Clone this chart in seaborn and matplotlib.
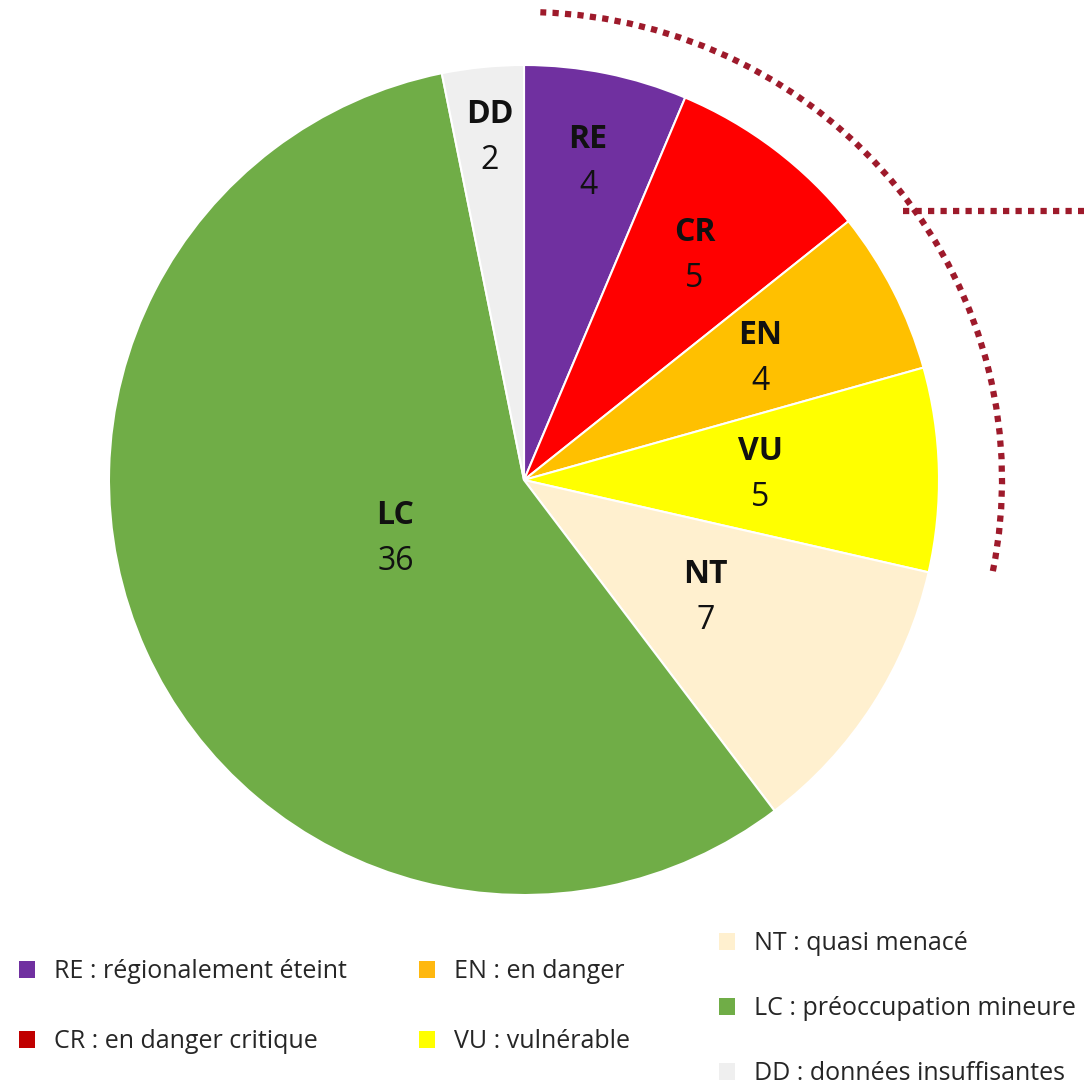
import numpy as np
import matplotlib
matplotlib.use("Agg")
import matplotlib.pyplot as plt
from matplotlib.patches import Arc, Patch
import seaborn as sns

# data (clockwise from 12 o'clock)
codes = ["RE", "CR", "EN", "VU", "NT", "LC", "DD"]
counts = [4, 5, 4, 5, 7, 36, 2]
legend_labels = [
    "RE : régionalement éteint",
    "CR : en danger critique",
    "EN : en danger",
    "VU : vulnérable",
    "NT : quasi menacé",
    "LC : préoccupation mineure",
    "DD : données insuffisantes",
]

slice_colors = ["#7030A0", "#FF0000", "#FFC000", "#FFFF00", "#FFF0CF", "#70AD47", "#EFEFEF"]
legend_colors = ["#7030A0", "#C00000", "#FFB80F", "#FFFF00", "#FFF0CF", "#70AD47", "#EFEFEF"]
# how far from the centre each label sits (fraction of radius)
label_dist = [0.78, 0.68, 0.64, 0.57, 0.52, 0.34, 0.83]

sns.set_theme(style="white")
plt.rcParams["font.family"] = ["Open Sans", "DejaVu Sans"]

W, H = 1084, 1087
fig = plt.figure(figsize=(W / 100, H / 100), dpi=100)
ax = fig.add_axes([0, 0, 1, 1])

cx, cy, r = 524, H - 480, 415
wedges, _ = ax.pie(
    counts,
    colors=slice_colors,
    startangle=90,
    counterclock=False,
    center=(cx, cy),
    radius=r,
    wedgeprops=dict(edgecolor="white", linewidth=1.5),
    frame=True,
)
ax.set_xlim(0, W)
ax.set_ylim(0, H)
ax.axis("off")

for w, code, n, d in zip(wedges, codes, counts, label_dist):
    ang = np.deg2rad((w.theta1 + w.theta2) / 2)
    x = cx + d * r * np.cos(ang)
    y = cy + d * r * np.sin(ang)
    ax.text(x, y + 23, code, ha="center", va="center", fontsize=23,
            fontweight="bold", color="#111111")
    ax.text(x, y - 23, str(n), ha="center", va="center", fontsize=23,
            color="#111111")

# dotted bracket around the threatened categories
dark_red = "#9E1A2B"
arc = Arc((cx, cy), 2 * 478, 2 * 468, theta1=-11, theta2=88,
          color=dark_red, linewidth=4.5, linestyle=(0, (1, 1)))
ax.add_patch(arc)
ax.plot([903, W], [H - 211, H - 211], color=dark_red, linewidth=4.5,
        linestyle=(0, (1, 1)), dash_capstyle="butt")

# legend in three columns
handles = [Patch(facecolor=c, edgecolor="none") for c in legend_colors]
cols = [([0, 1], 19, 959, 1.8), ([2, 3], 419, 959, 1.8), ([4, 5, 6], 719, 931, 1.6)]
for idx, lx, ly, sp in cols:
    leg = fig.legend(
        [handles[i] for i in idx], [legend_labels[i] for i in idx],
        loc="upper left", bbox_to_anchor=(lx / W, 1 - ly / H),
        frameon=False, fontsize=18, labelspacing=sp,
        handlelength=0.65, handleheight=0.65, handletextpad=0.75,
        borderpad=0, borderaxespad=0,
    )
    for t in leg.get_texts():
        t.set_color("#262626")

fig.savefig("out.png", dpi=100)
